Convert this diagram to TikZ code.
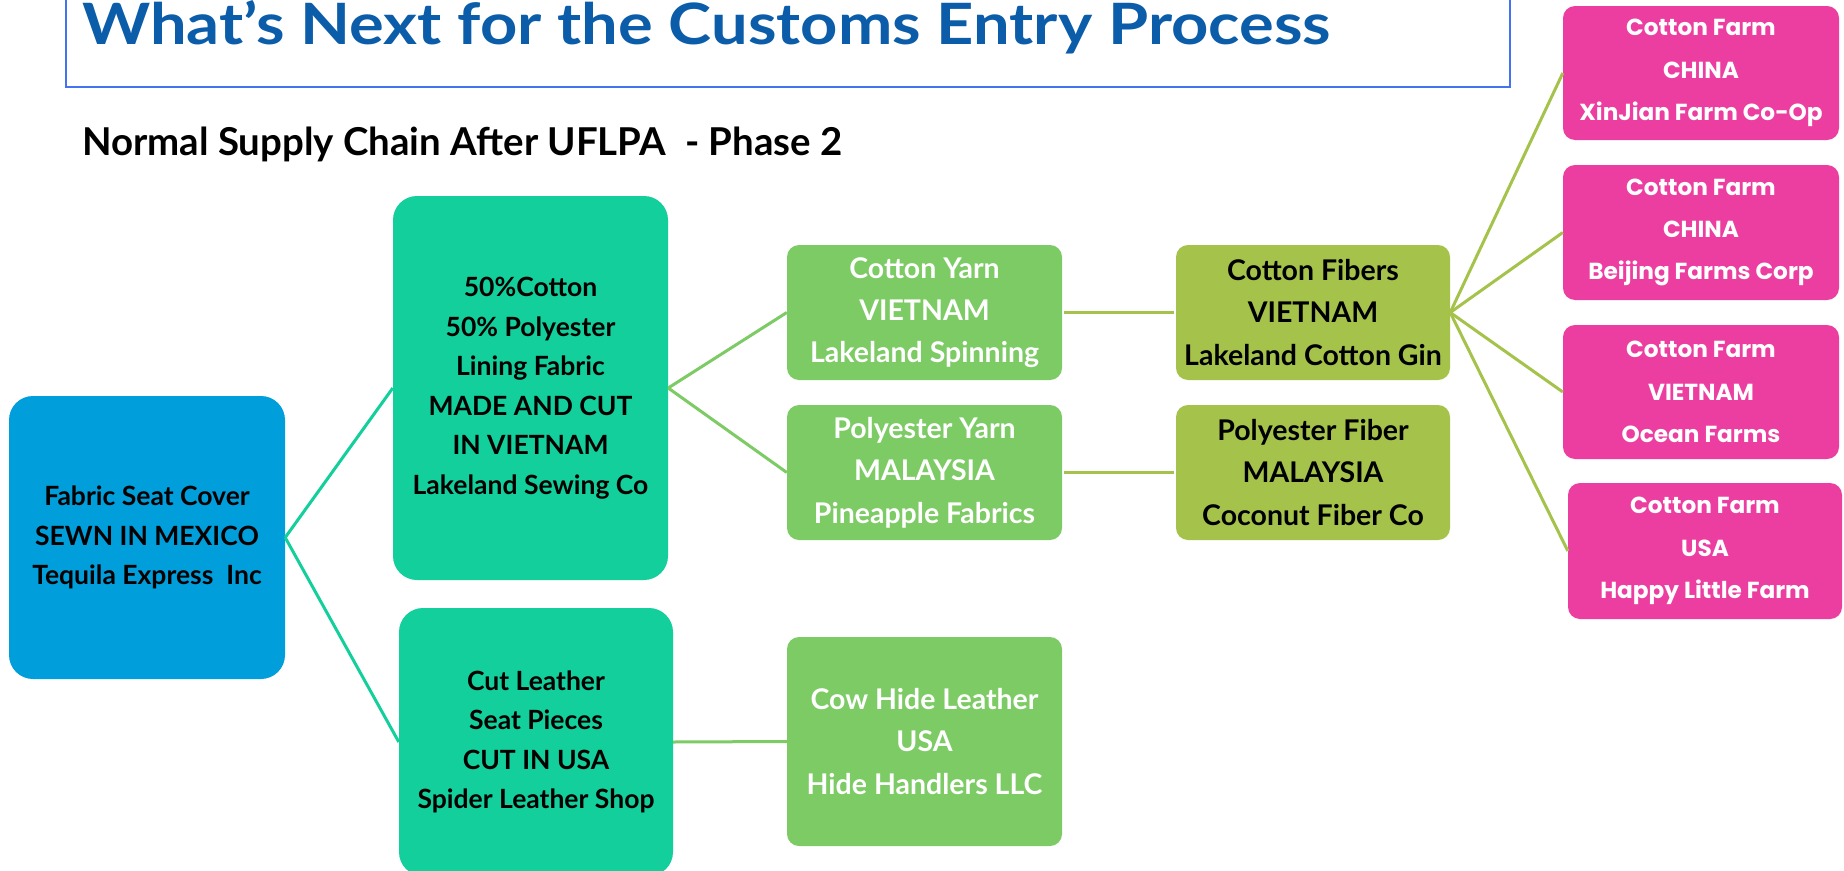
\documentclass[tikz,border=0pt]{standalone}
\usepackage{fontspec}
\setmainfont{Lato}
\newfontfamily\titlefont{Lato}[FakeStretch=1.14]
\newfontfamily\farmfont{Poppins}
\usepackage{xcolor}

\definecolor{titleblue}{RGB}{11,92,169}
\definecolor{frameblue}{RGB}{68,114,240}
\definecolor{seatblue}{RGB}{0,158,219}
\definecolor{fabricteal}{RGB}{18,207,155}
\definecolor{yarngreen}{RGB}{125,203,101}
\definecolor{fiberolive}{RGB}{165,195,75}
\definecolor{farmpink}{RGB}{236,62,160}

\begin{document}
\begin{tikzpicture}[x=1pt,y=-1pt,
	box/.style={rounded corners=12pt, inner sep=0pt, align=center, minimum width=275pt, minimum height=135pt},
	bigbox/.style={box, rounded corners=24pt, font=\fontsize{26.5}{39.5}\selectfont\bfseries},
	smallbox/.style={box, font=\fontsize{28.5}{42.3}\selectfont\bfseries},
	farmbox/.style={box, fill=farmpink, text=white, font=\farmfont\fontsize{23.2}{42.3}\selectfont\bfseries},
	link/.style={line width=3pt}]
\clip(0,0)rectangle(1844,870);
\fill[white](0,0)rectangle(1844,870);

% heading
\draw[frameblue, line width=1.5pt](66,-20)rectangle(1510,87);
\node[anchor=base west, inner sep=0pt, text=titleblue, font=\titlefont\fontsize{57}{60}\selectfont\bfseries](title)at(82,44){What’s Next for the Customs Entry Process};
\node[anchor=west, inner sep=0pt, font=\fontsize{38.4}{40}\selectfont\bfseries](sub)at(82,144){Normal Supply Chain After UFLPA\ \ - Phase 2};

% product and fabric level
\node[bigbox, fill=seatblue, minimum width=276pt, minimum height=283pt](seat)at(147,537.5){Fabric Seat Cover\\SEWN IN MEXICO\\Tequila Express\ \ Inc};
\node[bigbox, fill=fabricteal, minimum height=384pt](lining)at(530.5,388){50\%Cotton\\50\% Polyester\\Lining Fabric\\MADE AND CUT\\IN VIETNAM\\Lakeland Sewing Co};
\node[bigbox, fill=fabricteal, minimum width=274pt, minimum height=268pt](leather)at(536,742){Cut Leather\\Seat Pieces\\CUT IN USA\\Spider Leather Shop};

% yarn and fiber level
\node[smallbox, fill=yarngreen, text=white](cyarn)at(924.5,312.5){Cotton Yarn\\VIETNAM\\Lakeland Spinning};
\node[smallbox, fill=yarngreen, text=white](pyarn)at(924.5,472.5){Polyester Yarn\\MALAYSIA\\Pineapple Fabrics};
\node[smallbox, fill=yarngreen, text=white, minimum height=209pt](hide)at(924.5,741.5){Cow Hide Leather\\USA\\Hide Handlers LLC};
\node[smallbox, fill=fiberolive, minimum width=274pt](cfiber)at(1313,312.5){Cotton Fibers\\VIETNAM\\Lakeland Cotton Gin};
\node[smallbox, fill=fiberolive, minimum width=274pt](pfiber)at(1313,472.5){Polyester Fiber\\MALAYSIA\\Coconut Fiber Co};

% farms
\node[farmbox, minimum width=276pt, minimum height=134pt](farma)at(1701,73){Cotton Farm\\CHINA\\XinJian Farm Co-Op};
\node[farmbox, minimum width=276pt](farmb)at(1701,232.5){Cotton Farm\\CHINA\\Beijing Farms Corp};
\node[farmbox, minimum width=276pt, minimum height=134pt](farmc)at(1701,392){Cotton Farm\\VIETNAM\\Ocean Farms};
\node[farmbox, minimum width=274pt, minimum height=136pt](farmd)at(1705,551){Cotton Farm\\USA\\Happy Little Farm};

% connectors
\draw[link, fabricteal](seat.east)to(lining.west);
\draw[link, fabricteal](seat.east)to(leather.west);
\draw[link, yarngreen](lining.east)to(cyarn.west);
\draw[link, yarngreen](lining.east)to(pyarn.west);
\draw[link, yarngreen](leather.east)to(hide.west);
\draw[link, fiberolive, shorten <=2pt, shorten >=2pt](cyarn.east)to(cfiber.west);
\draw[link, fiberolive, shorten <=2pt, shorten >=2pt](pyarn.east)to(pfiber.west);
\foreach \f in {farma,farmb,farmc,farmd}
	\draw[link, fiberolive](cfiber.east)to(\f.west);
\end{tikzpicture}
\end{document}
